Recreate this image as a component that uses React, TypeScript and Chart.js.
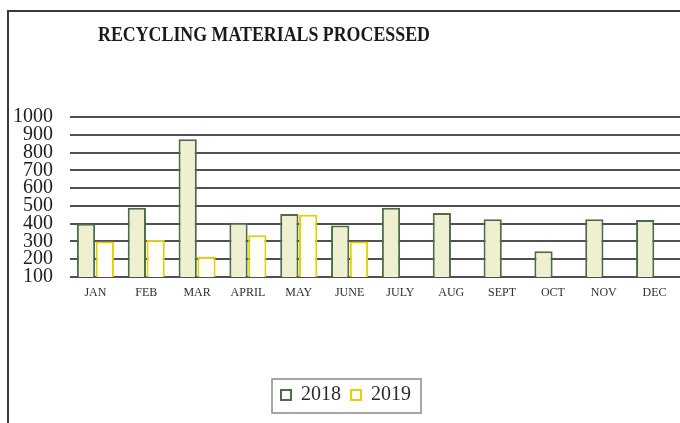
import React, { useEffect, useRef } from "react";
import { Chart, registerables } from "chart.js";

Chart.register(...registerables);

const TITLE = "RECYCLING MATERIALS PROCESSED";
const MONTHS = ["JAN", "FEB", "MAR", "APRIL", "MAY", "JUNE", "JULY", "AUG", "SEPT", "OCT", "NOV", "DEC"];
const SERIES_2018 = [400, 490, 875, 405, 455, 390, 490, 460, 425, 245, 425, 420];
const SERIES_2019 = [300, 310, 215, 335, 450, 300, null, null, null, null, null, null];
const Y_MIN = 100;
const Y_MAX = 1000;
const Y_STEP = 100;

const SERIF = "'Liberation Serif', 'Times New Roman', serif";

const framePlugin = {
  id: "frameAndTitle",
  beforeDraw(chart: any) {
    const { ctx, width, height, chartArea } = chart;
    ctx.save();
    ctx.fillStyle = "#ffffff";
    ctx.fillRect(0, 0, width, height);
    ctx.strokeStyle = "#3a3a3a";
    ctx.lineWidth = 2;
    ctx.beginPath();
    ctx.moveTo(8, height);
    ctx.lineTo(8, 11);
    ctx.lineTo(width, 11);
    ctx.stroke();
    // title
    ctx.font = "bold 21px " + SERIF;
    ctx.fillStyle = "#1a1a1a";
    ctx.textAlign = "center";
    ctx.textBaseline = "alphabetic";
    const cx = chartArea.left + chartArea.width * 0.318;
    ctx.translate(cx, 41);
    ctx.scale(0.85, 1);
    ctx.fillText(TITLE, 0, 0);
    ctx.restore();
  },
  afterDraw(chart: any) {
    const lg = chart.legend;
    if (!lg || !lg.legendHitBoxes || !lg.legendHitBoxes.length) return;
    const boxes = lg.legendHitBoxes;
    const left = Math.min(...boxes.map((b: any) => b.left)) - 9;
    const right = Math.max(...boxes.map((b: any) => b.left + b.width)) + 10;
    const top = Math.min(...boxes.map((b: any) => b.top)) - 6;
    const bottom = Math.max(...boxes.map((b: any) => b.top + b.height)) + 8;
    const { ctx } = chart;
    ctx.save();
    ctx.strokeStyle = "#8a8a8a";
    ctx.lineWidth = 1.5;
    ctx.strokeRect(left, top, right - left, bottom - top);
    ctx.restore();
  },
};

export default function App() {
  const ref = useRef<HTMLCanvasElement | null>(null);

  useEffect(() => {
    if (!ref.current) return;
    const chart = new Chart(ref.current, {
      type: "bar",
      data: {
        labels: MONTHS,
        datasets: [
          {
            label: "2018",
            data: SERIES_2018,
            backgroundColor: "#eef0d0",
            borderColor: "#4d6a4a",
            borderWidth: 2,
            borderSkipped: false,
            categoryPercentage: 0.74,
            barPercentage: 0.97,
          },
          {
            label: "2019",
            data: SERIES_2019,
            backgroundColor: "#fffef6",
            borderColor: "#e3d000",
            borderWidth: 2,
            borderSkipped: false,
            categoryPercentage: 0.74,
            barPercentage: 0.97,
          },
        ],
      },
      options: {
        responsive: false,
        animation: false,
        layout: { padding: { left: 12, right: 0, top: 117, bottom: 8 } },
        plugins: {
          title: { display: false },
          tooltip: { enabled: false },
          legend: {
            position: "bottom",
            labels: {
              font: { family: SERIF, size: 20 },
              color: "#2a2a2a",
              boxWidth: 10,
              boxHeight: 10,
              padding: 10,
              generateLabels: (c: any) =>
                c.data.datasets.map((ds: any, i: number) => ({
                  text: ds.label,
                  fillStyle: "#ffffff",
                  strokeStyle: ds.borderColor,
                  lineWidth: 2,
                  fontColor: "#2a2a2a",
                  datasetIndex: i,
                  hidden: false,
                })),
            },
          },
        },
        scales: {
          x: {
            grid: { display: false, drawTicks: false },
            border: { display: false },
            ticks: {
              font: { family: SERIF, size: 12 },
              color: "#2e2e2e",
              padding: 9,
              maxRotation: 0,
              autoSkip: false,
            },
            afterFit: (s: any) => {
              s.height = 98;
            },
          },
          y: {
            min: Y_MIN,
            max: Y_MAX,
            grid: { color: "#505050", lineWidth: 2, drawTicks: false },
            border: { display: false },
            ticks: {
              stepSize: Y_STEP,
              autoSkip: false,
              font: { family: SERIF, size: 20 },
              color: "#1e1e1e",
              padding: 17,
              callback: (v: any) => String(v),
            },
            afterFit: (s: any) => {
              s.width = 58;
            },
          },
        },
      },
      plugins: [framePlugin],
    });
    return () => chart.destroy();
  }, []);

  return (
    <div style={{ position: "fixed", left: 0, top: 0, width: 680, height: 423, background: "#fff" }}>
      <canvas ref={ref} width={680} height={423} style={{ display: "block" }} />
    </div>
  );
}
